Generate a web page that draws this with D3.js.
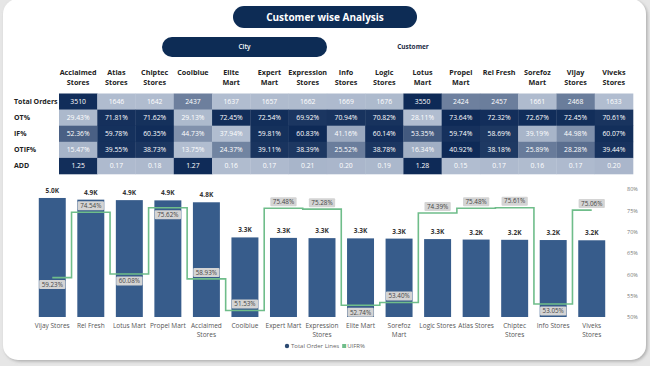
<!DOCTYPE html>
<html><head><meta charset="utf-8">
<script src="https://cdn.jsdelivr.net/npm/d3@7"></script>
<style>
html,body{margin:0;padding:0;background:#e6e6e6;}
svg{display:block;font-family:"Open Sans","Noto Sans",sans-serif;}
</style></head>
<body><svg id="chart" width="650" height="366"></svg>
<script>
// ---------- DATA ----------
const tableStores = ["Acclaimed Stores","Atlas Stores","Chiptec Stores","Coolblue","Elite Mart","Expert Mart","Expression Stores","Info Stores","Logic Stores","Lotus Mart","Propel Mart","Rel Fresh","Sorefoz Mart","Vijay Stores","Viveks Stores"];
const rowNames = ["Total Orders","OT%","IF%","OTIF%","ADD"];
const totalOrders = [3510,1646,1642,2437,1637,1657,1662,1669,1676,3550,2424,2457,1661,2468,1633];
const otPct   = [29.43,71.81,71.62,29.13,72.45,72.54,69.92,70.94,70.82,28.11,73.64,72.32,72.67,72.45,70.61];
const ifPct   = [52.36,59.78,60.35,44.73,37.94,59.81,60.83,41.16,60.14,53.35,59.74,58.69,39.19,44.98,60.07];
const otifPct = [15.47,39.55,38.73,13.75,24.37,39.11,38.39,25.52,38.78,16.34,40.92,38.18,25.89,28.28,39.44];
const addVals = [1.25,0.17,0.18,1.27,0.16,0.17,0.21,0.20,0.19,1.28,0.15,0.17,0.16,0.17,0.20];

const chartStores = ["Vijay Stores","Rel Fresh","Lotus Mart","Propel Mart","Acclaimed Stores","Coolblue","Expert Mart","Expression Stores","Elite Mart","Sorefoz Mart","Logic Stores","Atlas Stores","Chiptec Stores","Info Stores","Viveks Stores"];
const orderLines = [4980,4910,4890,4880,4800,3330,3310,3300,3290,3280,3260,3240,3230,3220,3210];
const uifr = [59.23,74.54,60.08,75.62,58.93,51.53,75.48,75.28,52.74,53.40,74.39,75.48,75.61,53.05,75.06];
const uifrLabelSide = ["below","above","below","below","above","above","above","above","below","above","above","above","above","below","above"];
const rightTicks = [50,55,60,65,70,75,80];
const legendItems = ["Total Order Lines","UIFR%"];

// ---------- DRAW ----------
const svg = d3.select("#chart");
const NAVY = "#0d2c55";

const defs = svg.append("defs");
const f = defs.append("filter").attr("id","sh").attr("x","-5%").attr("y","-5%").attr("width","110%").attr("height","110%");
f.append("feDropShadow").attr("dx",1.5).attr("dy",1.5).attr("stdDeviation",1.5).attr("flood-color","#888").attr("flood-opacity",0.6);

svg.append("rect").attr("x",3).attr("y",-1).attr("width",643).attr("height",361)
  .attr("rx",15).attr("fill","#fff").attr("filter","url(#sh)");

// Title pill
svg.append("rect").attr("x",233).attr("y",6).attr("width",184).attr("height",22).attr("rx",11).attr("fill",NAVY);
svg.append("text").attr("x",325).attr("y",17).attr("dy","0.35em").attr("text-anchor","middle")
  .attr("fill","#fff").attr("font-size",10).attr("font-weight",700).text("Customer wise Analysis");

// City / Customer toggle
svg.append("rect").attr("x",162).attr("y",37).attr("width",165).attr("height",20).attr("rx",10).attr("fill",NAVY);
svg.append("text").attr("x",244.5).attr("y",47).attr("dy","0.35em").attr("text-anchor","middle")
  .attr("fill","#fff").attr("font-size",6.5).attr("font-weight",600).text("City");
svg.append("text").attr("x",413).attr("y",47).attr("dy","0.35em").attr("text-anchor","middle")
  .attr("fill","#1b2a44").attr("font-size",6.5).attr("font-weight",700).text("Customer");

// ---------- TABLE ----------
const rows = [totalOrders, otPct, ifPct, otifPct, addVals];
const fmts = [d3.format("d"), v=>v.toFixed(2)+"%", v=>v.toFixed(2)+"%", v=>v.toFixed(2)+"%", v=>v.toFixed(2)];
const cx = d3.scaleBand().domain(tableStores).range([59,633]);
const ry = d3.scaleBand().domain(rowNames).range([93.5,174]);
const tg = svg.append("g");

// headers
tableStores.forEach(s=>{
  const x = cx(s)+cx.bandwidth()/2;
  const t = tg.append("text").attr("x",x).attr("y",72).attr("dy","0.35em").attr("text-anchor","middle")
    .attr("font-size",7.2).attr("font-weight",700).attr("fill","#222").text(s);
  if (t.node().getComputedTextLength() > cx.bandwidth()-4 && s.includes(" ")) {
    const parts = s.split(" ");
    t.text(parts[0]);
    tg.append("text").attr("x",x).attr("y",82).attr("dy","0.35em").attr("text-anchor","middle")
      .attr("font-size",7.2).attr("font-weight",700).attr("fill","#222").text(parts.slice(1).join(" "));
  }
});

rowNames.forEach((r,i)=>{
  const vals = rows[i];
  const col = d3.scaleLinear().domain(d3.extent(vals)).range(["#b1bdd0","#0e2a57"]).interpolate(d3.interpolateRgb);
  tg.append("text").attr("x",14).attr("y",ry(r)+ry.bandwidth()/2).attr("dy","0.35em")
    .attr("font-size",7).attr("font-weight",700).attr("fill","#222").text(r);
  tg.selectAll(null).data(vals).enter().append("rect")
    .attr("x",(d,j)=>cx(tableStores[j])).attr("y",ry(r))
    .attr("width",cx.bandwidth()+0.3).attr("height",ry.bandwidth()+0.3)
    .attr("fill",d=>col(d));
  tg.selectAll(null).data(vals).enter().append("text")
    .attr("x",(d,j)=>cx(tableStores[j])+cx.bandwidth()/2).attr("y",ry(r)+ry.bandwidth()/2).attr("dy","0.35em")
    .attr("text-anchor","middle").attr("font-size",6.8).attr("fill","#fff").text(d=>fmts[i](d));
});

// ---------- COMBO CHART ----------
const x = d3.scaleBand().domain(chartStores).range([33,611]).paddingInner(0.3).paddingOuter(0.15);
const y = d3.scaleLinear().domain([0,5000]).range([317,197.5]);
const y2 = d3.scaleLinear().domain([50,80]).range([317,189]);
const cg = svg.append("g");

cg.selectAll("rect.bar").data(orderLines).enter().append("rect").attr("class","bar")
  .attr("x",(d,i)=>x(chartStores[i])).attr("y",d=>y(d))
  .attr("width",x.bandwidth()).attr("height",d=>y(0)-y(d)).attr("fill","#375c8b");

cg.selectAll("text.bl").data(orderLines).enter().append("text").attr("class","bl")
  .attr("x",(d,i)=>x(chartStores[i])+x.bandwidth()/2).attr("y",d=>y(d)-5)
  .attr("text-anchor","middle").attr("font-size",6.5).attr("font-weight",700).attr("fill","#333")
  .text(d=>(d/1000).toFixed(1)+"K");

// x-axis labels (wrapped)
chartStores.forEach(s=>{
  const cxp = x(s)+x.bandwidth()/2;
  const t = cg.append("text").attr("x",cxp).attr("y",326).attr("dy","0.35em").attr("text-anchor","middle")
    .attr("font-size",6.5).attr("fill","#555").text(s);
  if (t.node().getComputedTextLength() > x.step()-1 && s.includes(" ")) {
    const parts = s.split(" ");
    t.text(parts[0]);
    cg.append("text").attr("x",cxp).attr("y",335).attr("dy","0.35em").attr("text-anchor","middle")
      .attr("font-size",6.5).attr("fill","#555").text(parts.slice(1).join(" "));
  }
});

// right axis
const ra = d3.axisRight(y2).tickValues(rightTicks).tickFormat(d=>d+"%").tickSize(0);
const rag = cg.append("g").attr("transform","translate(624,0)").call(ra);
rag.select(".domain").remove();
rag.selectAll("text").attr("font-size",5.5).attr("fill","#777").attr("font-family","Open Sans, sans-serif");

// step line
const line = d3.line().x((d,i)=>x(chartStores[i])+x.bandwidth()/2).y(d=>y2(d)).curve(d3.curveStep);
cg.append("path").datum(uifr).attr("d",line).attr("fill","none").attr("stroke","#6fbd8a").attr("stroke-width",1.6);

// line labels
uifr.forEach((v,i)=>{
  const cxp = x(chartStores[i])+x.bandwidth()/2;
  const cy = y2(v) + (uifrLabelSide[i]==="above" ? -6.5 : 7);
  const g = cg.append("g");
  const t = g.append("text").attr("x",cxp).attr("y",cy).attr("dy","0.35em").attr("text-anchor","middle")
    .attr("font-size",6.3).attr("fill","#444").text(v.toFixed(2)+"%");
  const w = t.node().getComputedTextLength()+5;
  g.insert("rect","text").attr("x",cxp-w/2).attr("y",cy-4.5).attr("width",w).attr("height",9)
    .attr("rx",1).attr("fill","#d4d4d4");
});

// legend
const lg = cg.append("g");
lg.append("circle").attr("cx",287).attr("cy",346).attr("r",2.2).attr("fill","#2c4a72");
const lt1 = lg.append("text").attr("x",291).attr("y",346).attr("dy","0.35em").attr("font-size",6).attr("fill","#666").text(legendItems[0]);
const lx2 = 291 + lt1.node().getComputedTextLength() + 5;
lg.append("rect").attr("x",lx2-2).attr("y",344).attr("width",4).attr("height",4).attr("fill","#6fbd8a");
lg.append("text").attr("x",lx2+3).attr("y",346).attr("dy","0.35em").attr("font-size",6).attr("fill","#666").text(legendItems[1]);
</script></body></html>
